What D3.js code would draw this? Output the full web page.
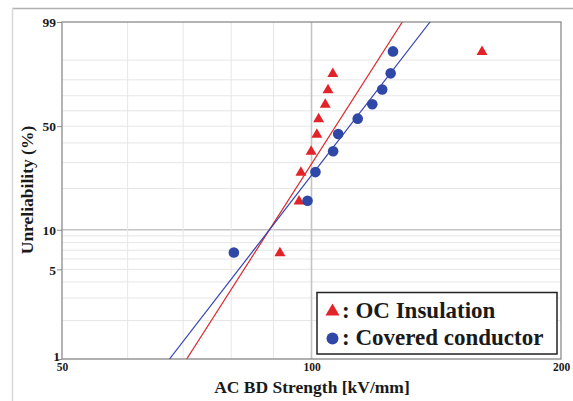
<!DOCTYPE html>
<html>
<head>
<meta charset="utf-8">
<script src="https://cdn.jsdelivr.net/npm/d3@7"></script>
<style>
  body { margin: 0; background: #fff; }
  svg text { font-family: "Liberation Serif", "Times New Roman", serif; font-weight: bold; fill: #1a1a1a; }
</style>
</head>
<body>
<div id="chart"></div>
<script>
// median ranks (%) shared by both samples
var ranks = [6.73, 16.35, 25.96, 35.58, 45.19, 54.81, 64.42, 74.04, 83.65, 93.27];
var ocValues = [91.6, 96.6, 97.1, 99.9, 101.5, 102.0, 103.9, 104.7, 106.1, 160.6];
var ccValues = [80.6, 98.9, 101.1, 106.2, 107.7, 113.7, 118.4, 121.7, 124.6, 125.4];
// fitted lines, [kV/mm, %] at each end
var ocFit = [[70.7, 1], [128.7, 99]];
var ccFit = [[67.4, 1], [139.0, 99]];
var yTicks = [1, 5, 10, 50, 99];
var yGrid = [1, 2, 3, 4, 5, 6, 7, 8, 9, 10, 20, 30, 40, 50, 60, 70, 80, 90];
var xTicks = [50, 100, 200];
var xGrid = [60, 70, 80, 90, 100];

var W = 573, H = 401;
var margin = {top: 22, left: 62},
    width = 499,
    height = 337;

var svg = d3.select("#chart").append("svg")
    .attr("width", W)
    .attr("height", H);

// outer panel frame
svg.append("line").attr("x1", 12).attr("x2", W).attr("y1", 8.5).attr("y2", 8.5)
    .style("stroke", "#b0b0b0").style("stroke-width", 1.5);
svg.append("line").attr("x1", 12.5).attr("x2", 12.5).attr("y1", 8).attr("y2", H)
    .style("stroke", "#d8d8d8").style("stroke-width", 1.5);

var g = svg.append("g")
    .attr("transform", "translate(" + margin.left + "," + margin.top + ")");

function weib(p) { return Math.log(-Math.log(1 - p / 100)); }

var x = d3.scaleLog().domain([50, 200]).range([0, width]);
var yw = d3.scaleLinear().domain([weib(1), weib(99)]).range([height, 0]);
function y(p) { return yw(weib(p)); }

// grid
g.selectAll(".hgrid").data(yGrid).enter().append("line")
    .attr("x1", 0).attr("x2", width)
    .attr("y1", function(d) { return y(d); })
    .attr("y2", function(d) { return y(d); })
    .style("stroke", function(d) { return d == 10 ? "#c4c4c4" : "#e6e6e6"; })
    .style("stroke-width", function(d) { return d == 10 ? 1.6 : 1; });

g.selectAll(".vgrid").data(xGrid).enter().append("line")
    .attr("x1", function(d) { return x(d); })
    .attr("x2", function(d) { return x(d); })
    .attr("y1", 0).attr("y2", height)
    .style("stroke", function(d) { return d == 100 ? "#c4c4c4" : "#e6e6e6"; })
    .style("stroke-width", function(d) { return d == 100 ? 1.6 : 1; });

// frame
g.append("rect").attr("width", width).attr("height", height)
    .style("fill", "none").style("stroke", "#8c8c8c").style("stroke-width", 1.3);

// axes
var yAxis = d3.axisLeft(yw)
    .tickValues(yTicks.map(weib))
    .tickFormat(function(d, i) { return yTicks[i]; })
    .tickSize(5).tickPadding(1);
var ya = g.append("g").call(yAxis);
ya.select(".domain").remove();
ya.selectAll("line").style("stroke", "#8c8c8c");
ya.selectAll("text").style("font-size", "13.5px").attr("dy", "0.35em");
ya.selectAll(".tick").filter(function(d, i) { return yTicks[i] == 1; })
    .select("text").attr("dy", "0.1em").attr("x", -2);

var xAxis = d3.axisBottom(x)
    .tickValues(xTicks)
    .tickFormat(function(d) { return d; })
    .tickSize(0).tickPadding(4);
var xa = g.append("g").attr("transform", "translate(0," + height + ")").call(xAxis);
xa.select(".domain").remove();
xa.selectAll("text").style("font-size", "11.5px");

// fitted lines
g.append("clipPath").attr("id", "clip")
    .append("rect").attr("width", width).attr("height", height);

var line = d3.line()
    .x(function(d) { return x(d[0]); })
    .y(function(d) { return y(d[1]); });

g.append("path").datum(ocFit).attr("d", line).attr("clip-path", "url(#clip)")
    .style("fill", "none").style("stroke", "#d8282c").style("stroke-width", 1.2);
g.append("path").datum(ccFit).attr("d", line).attr("clip-path", "url(#clip)")
    .style("fill", "none").style("stroke", "#3444b0").style("stroke-width", 1.2);

// points
var tri = d3.symbol().type(d3.symbolTriangle).size(52);
g.selectAll(".oc").data(ocValues).enter().append("path")
    .attr("d", tri)
    .attr("transform", function(d, i) { return "translate(" + x(d) + "," + (y(ranks[i]) + 0.5) + ")"; })
    .style("fill", "#e3232a");

g.selectAll(".cc").data(ccValues).enter().append("circle")
    .attr("cx", function(d) { return x(d); })
    .attr("cy", function(d, i) { return y(ranks[i]); })
    .attr("r", 5.3)
    .style("fill", "#2f48a8");

// axis titles
svg.append("text")
    .attr("x", 312).attr("y", 392.5)
    .attr("text-anchor", "middle")
    .style("font-size", "17.5px")
    .text("AC BD Strength [kV/mm]");

svg.append("text")
    .attr("transform", "translate(33,190) rotate(-90)")
    .attr("text-anchor", "middle")
    .style("font-size", "17.5px")
    .text("Unreliability (%)");

// legend
var lg = svg.append("g").attr("transform", "translate(317,292.5)");
lg.append("rect").attr("width", 240).attr("height", 61.5)
    .style("fill", "#fff").style("stroke", "#222").style("stroke-width", 1.5);
lg.append("path").attr("d", d3.symbol().type(d3.symbolTriangle).size(85))
    .attr("transform", "translate(15.5,19)").style("fill", "#e3232a");
lg.append("circle").attr("cx", 15.5).attr("cy", 46).attr("r", 6).style("fill", "#2f48a8");
lg.append("text").attr("x", 25).attr("y", 25).style("font-size", "23px").text(": OC Insulation");
lg.append("text").attr("x", 25).attr("y", 52).style("font-size", "23px").text(": Covered conductor");
</script>
</body>
</html>
